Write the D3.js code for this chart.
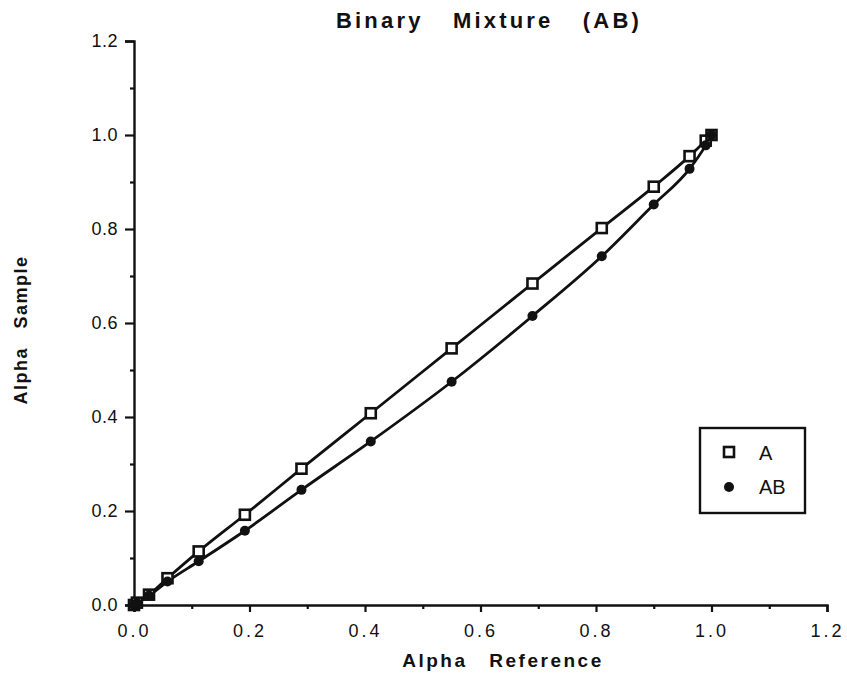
<!DOCTYPE html>
<html>
<head>
<meta charset="utf-8">
<script src="https://cdn.jsdelivr.net/npm/d3@7"></script>
<style>
  html, body { margin: 0; padding: 0; background: #fff; }
  svg { display: block; }
  text { font-family: "Liberation Sans", Arial, sans-serif; fill: #111; }
</style>
</head>
<body>
<div id="chart"></div>
<script>
const xRef = [0, 0.005, 0.026, 0.058, 0.112, 0.192, 0.29, 0.41, 0.55, 0.69, 0.81, 0.90, 0.962, 0.99, 1.0];
const seriesA = [0, 0.005, 0.022, 0.057, 0.114, 0.192, 0.29, 0.408, 0.546, 0.684, 0.802, 0.89, 0.955, 0.988, 1.0];
const seriesAB = [0, 0.004, 0.02, 0.05, 0.093, 0.158, 0.245, 0.348, 0.475, 0.615, 0.742, 0.852, 0.928, 0.978, 1.0];
const majorTicks = [0, 0.2, 0.4, 0.6, 0.8, 1.0, 1.2];
const minorTicks = [0.1, 0.3, 0.5, 0.7, 0.9, 1.1];
const titleText = "Binary Mixture (AB)";
const xLabel = "Alpha Reference";
const yLabel = "Alpha Sample";
const legendLabels = ["A", "AB"];

const W = 847, H = 677;
const svg = d3.select("#chart").append("svg").attr("width", W).attr("height", H);

const x = d3.scaleLinear().domain([0, 1.2]).range([134, 827]);
const y = d3.scaleLinear().domain([0, 1.2]).range([605, 41]);

const fmt = d3.format(".1f");
const ink = "#111";

// Y axis
const yAxis = d3.axisLeft(y).tickValues(majorTicks).tickFormat(fmt).tickSize(9).tickPadding(7);
const gy = svg.append("g").attr("transform", `translate(${x(0)},0)`).call(yAxis);
gy.select(".domain").attr("stroke", ink).attr("stroke-width", 2.4);
gy.selectAll(".tick line").attr("stroke", ink).attr("stroke-width", 2.2);
gy.selectAll(".tick text").style("font-size", "18px").style("letter-spacing", "0.5px")
  .style("font-family", "'Liberation Sans', Arial, sans-serif").attr("fill", ink);
const gyMinor = svg.append("g").attr("transform", `translate(${x(0)},0)`)
  .call(d3.axisLeft(y).tickValues(minorTicks).tickFormat("").tickSize(4));
gyMinor.select(".domain").remove();
gyMinor.selectAll(".tick line").attr("stroke", ink).attr("stroke-width", 2.2);

// X axis
const xAxis = d3.axisBottom(x).tickValues(majorTicks).tickFormat(fmt).tickSize(7).tickPadding(12);
const gx = svg.append("g").attr("transform", `translate(0,${y(0)})`).call(xAxis);
gx.select(".domain").attr("stroke", ink).attr("stroke-width", 2.4);
gx.selectAll(".tick line").attr("stroke", ink).attr("stroke-width", 2.2);
gx.selectAll(".tick text").style("font-size", "18px").style("letter-spacing", "3px")
  .style("font-family", "'Liberation Sans', Arial, sans-serif").attr("fill", ink);
const gxMinor = svg.append("g").attr("transform", `translate(0,${y(0)})`)
  .call(d3.axisBottom(x).tickValues(minorTicks).tickFormat("").tickSize(4));
gxMinor.select(".domain").remove();
gxMinor.selectAll(".tick line").attr("stroke", ink).attr("stroke-width", 2.2);

// Lines
const dataA = xRef.map((v, i) => [v, seriesA[i]]);
const dataAB = xRef.map((v, i) => [v, seriesAB[i]]);
const line = d3.line().x(d => x(d[0])).y(d => y(d[1])).curve(d3.curveMonotoneX);

svg.append("path").datum(dataAB).attr("d", line).attr("fill", "none").attr("stroke", ink).attr("stroke-width", 2.8);
svg.append("path").datum(dataA).attr("d", line).attr("fill", "none").attr("stroke", ink).attr("stroke-width", 2.8);

// Markers (squares first, filled dots on top)
svg.append("g").selectAll("rect").data(dataA).join("rect")
  .attr("x", d => x(d[0]) - 5).attr("y", d => y(d[1]) - 5)
  .attr("width", 10).attr("height", 10)
  .attr("fill", "#fff").attr("stroke", ink).attr("stroke-width", 2.6);
svg.append("g").selectAll("circle").data(dataAB).join("circle")
  .attr("cx", d => x(d[0])).attr("cy", d => y(d[1])).attr("r", 5).attr("fill", ink);

// Title
svg.append("text").attr("x", 489).attr("y", 28).attr("text-anchor", "middle")
  .style("font-size", "22px").style("font-weight", "bold").style("letter-spacing", "3.2px")
  .style("word-spacing", "20px").text(titleText);

// X label
svg.append("text").attr("x", 503).attr("y", 667).attr("text-anchor", "middle")
  .style("font-size", "19px").style("font-weight", "bold").style("letter-spacing", "2.5px")
  .style("word-spacing", "14px").text(xLabel);

// Y label
svg.append("text").attr("transform", "translate(27,330) rotate(-90)").attr("text-anchor", "middle")
  .style("font-size", "18px").style("font-weight", "bold").style("letter-spacing", "1.5px")
  .style("word-spacing", "12px").text(yLabel);

// Legend
const lg = svg.append("g");
lg.append("rect").attr("x", 700).attr("y", 428).attr("width", 105).attr("height", 85)
  .attr("fill", "#fff").attr("stroke", ink).attr("stroke-width", 2.4);
lg.append("rect").attr("x", 724).attr("y", 447).attr("width", 10).attr("height", 10)
  .attr("fill", "#fff").attr("stroke", ink).attr("stroke-width", 2.6);
lg.append("circle").attr("cx", 729).attr("cy", 487).attr("r", 5).attr("fill", ink);
lg.selectAll("text.lab").data(legendLabels).join("text").attr("class", "lab")
  .attr("x", 759).attr("y", (d, i) => 460 + i * 34)
  .style("font-size", "20px").text(d => d);
</script>
</body>
</html>
